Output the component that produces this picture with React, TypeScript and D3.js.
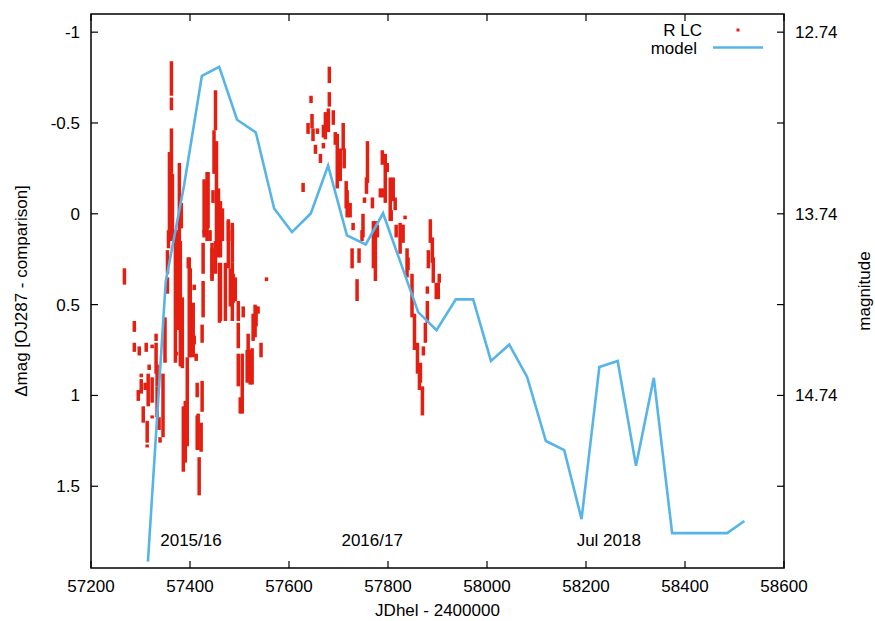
import React from 'react';
import * as d3 from 'd3';

// model light curve (JD - 2400000, delta mag)
const modelJd = [
  57315, 57351, 57388, 57424, 57459, 57495, 57533, 57570, 57606, 57644,
  57679, 57717, 57755, 57790, 57826, 57861, 57898, 57937, 57972, 58008,
  58045, 58081, 58119, 58156, 58191, 58227, 58264, 58301, 58337, 58374,
  58412, 58448, 58485, 58520,
];
const modelMag = [
  1.915, 0.372, -0.156, -0.76, -0.809, -0.518, -0.448, -0.029, 0.101, -0.002,
  -0.265, 0.119, 0.169, -0.003, 0.273, 0.541, 0.641, 0.471, 0.471, 0.81,
  0.72, 0.898, 1.251, 1.301, 1.681, 0.843, 0.81, 1.387, 0.903, 1.758,
  1.758, 1.758, 1.758, 1.691,
];

// R light curve, nightly runs: [jd, brightest, faintest]
const season1: [number, number, number][] = [
  [57267, 0.30, 0.39], [57287, 0.59, 0.65], [57287, 0.71, 0.76], [57297, 0.73, 0.78],
  [57311, 0.71, 0.76], [57323, 0.72, 0.74], [57331, 0.66, 0.70], [57331, 0.71, 0.88],
  [57317, 0.83, 0.86], [57301, 0.88, 0.90], [57301, 0.91, 0.99], [57295, 0.97, 1.03],
  [57309, 0.93, 0.97], [57315, 0.88, 1.06], [57323, 0.90, 1.04], [57305, 1.06, 1.15],
  [57313, 1.14, 1.26], [57313, 1.27, 1.28], [57323, 1.11, 1.12], [57333, 0.83, 0.95],
  [57333, 0.95, 1.12], [57337, 1.12, 1.19], [57339, 1.23, 1.26], [57345, 0.88, 1.23],
  [57349, 0.57, 0.82], [57354, 0.35, 0.44], [57354, 0.20, 0.33], [57356, 0.09, 0.19],
  [57370, 0.09, 0.82], [57376, 0.09, 0.64], [57384, 0.46, 0.85], [57372, 0.76, 0.78],
  [57386, 1.06, 1.42], [57390, 1.03, 1.37], [57394, 0.79, 1.08], [57398, 0.24, 0.79],
  [57404, 0.49, 0.68], [57408, 0.39, 0.42], [57408, 0.67, 0.72], [57412, 0.77, 0.81],
  [57414, 0.93, 1.01], [57414, 1.11, 1.30], [57418, 1.34, 1.55], [57422, 1.15, 1.31],
  [57424, 0.61, 0.71], [57424, 0.92, 1.09], [57426, 0.16, 0.33], [57426, 0.37, 0.57],
  [57428, 0.09, 0.13], [57440, 0.09, 0.15], [57444, 0.19, 0.36], [57457, 0.09, 0.24],
  [57459, 0.27, 0.60], [57471, 0.27, 0.59], [57485, 0.09, 0.27], [57485, 0.27, 0.59],
  [57491, 0.35, 0.48], [57497, 0.60, 0.74], [57497, 0.77, 0.95], [57501, 1.01, 1.10],
  [57507, 0.51, 0.57], [57515, 0.75, 0.93], [57521, 0.75, 0.94], [57527, 0.55, 0.70],
  [57533, 0.51, 0.62], [57537, 0.51, 0.55], [57543, 0.71, 0.79], [57554, 0.35, 0.37],
  [57505, 0.77, 1.10], [57517, 0.66, 0.90], [57525, 0.74, 0.94], [57531, 0.50, 0.68],
  [57394, 1.06, 1.28], [57416, 1.10, 1.30], [57400, 0.30, 0.79], [57406, 0.49, 0.79],
  [57396, 0.24, 0.30], [57362, -0.84, -0.65], [57362, -0.64, -0.57], [57362, -0.47, -0.22],
  [57358, -0.34, 0.15], [57364, -0.22, 0.15], [57378, -0.28, 0.15], [57382, -0.06, 0.08],
  [57380, 0.15, 0.84], [57451, -0.68, -0.46], [57448, -0.46, -0.22], [57453, -0.40, 0.15],
  [57451, 0.15, 0.33], [57434, -0.23, 0.15], [57436, -0.23, 0.08], [57428, -0.19, 0.11],
  [57457, -0.14, 0.15], [57465, -0.03, 0.15], [57477, 0.04, 0.15], [57485, 0.05, 0.15],
  [57446, -0.13, -0.06], [57461, -0.07, 0.24], [57477, 0.03, 0.30], [57461, 0.27, 0.59],
  [57481, 0.30, 0.51], [57487, 0.33, 0.49], [57444, 0.16, 0.37], [57497, 0.48, 0.59],
];
const season2: [number, number, number][] = [
  [57681, -0.81, -0.72], [57681, -0.67, -0.59], [57644, -0.65, -0.61], [57646, -0.55, -0.47],
  [57638, -0.50, -0.44], [57648, -0.47, -0.40], [57657, -0.47, -0.44], [57653, -0.38, -0.33],
  [57663, -0.33, -0.28], [57669, -0.49, -0.42], [57673, -0.56, -0.41], [57679, -0.58, -0.45],
  [57669, -0.39, -0.36], [57689, -0.57, -0.49], [57693, -0.45, -0.38], [57697, -0.44, -0.14],
  [57703, -0.36, -0.18], [57709, -0.50, -0.35], [57711, -0.36, -0.25], [57715, -0.18, -0.03],
  [57717, -0.13, 0.02], [57723, -0.06, 0.02], [57727, 0.19, 0.30], [57729, 0.05, 0.09],
  [57737, 0.36, 0.48], [57741, 0.19, 0.27], [57628, -0.17, -0.12], [57758, -0.40, -0.17],
  [57756, -0.20, -0.11], [57752, -0.09, -0.06], [57749, 0.00, 0.13], [57747, 0.09, 0.15],
  [57768, -0.09, -0.03], [57770, 0.04, 0.30], [57774, 0.04, 0.20], [57774, 0.20, 0.37],
  [57778, 0.06, 0.13], [57788, -0.35, -0.27], [57794, -0.33, -0.06], [57790, -0.14, -0.09],
  [57784, -0.14, -0.09], [57798, -0.28, -0.23], [57804, -0.20, 0.04], [57810, -0.20, -0.07],
  [57814, -0.09, -0.02], [57806, -0.02, 0.04], [57834, 0.01, 0.03], [57816, 0.06, 0.13],
  [57824, 0.05, 0.22], [57830, 0.06, 0.16], [57838, 0.19, 0.35], [57840, 0.24, 0.31],
  [57848, 0.33, 0.57], [57853, 0.55, 0.75], [57859, 0.71, 0.88], [57865, 0.82, 0.93],
  [57869, 0.95, 1.11], [57863, 0.86, 0.97], [57871, 0.73, 0.78], [57875, 0.60, 0.71],
  [57879, 0.48, 0.60], [57879, 0.40, 0.44], [57885, 0.03, 0.16], [57889, 0.13, 0.27],
  [57881, 0.20, 0.30], [57891, 0.24, 0.38], [57897, 0.38, 0.47], [57903, 0.33, 0.38],
  [57901, 0.38, 0.47],
];

const xTicks = [57200, 57400, 57600, 57800, 58000, 58200, 58400, 58600];
const yTicks = [-1, -0.5, 0, 0.5, 1, 1.5];
const y2Labels = [12.74, 13.74, 14.74];
const seasonLabels: [number, string][] = [
  [57402, '2015/16'],
  [57768, '2016/17'],
  [58246, 'Jul 2018'],
];

const W = 875;
const H = 621;
const margin = { top: 14, right: 91, bottom: 53, left: 91 };
const font = '"Liberation Sans", Arial, sans-serif';
const red = '#e41e10';
const blue = '#56b4e9';

export default function App() {
  const x = d3.scaleLinear().domain([57200, 58600]).range([margin.left, W - margin.right]);
  const y = d3.scaleLinear().domain([-1.1, 1.95]).range([margin.top, H - margin.bottom]);
  const offset = 13.74; // magnitude = delta + comparison

  const line = d3.line<number>()
    .x((_, i) => x(modelJd[i]))
    .y((d) => y(d));

  const runs = [...season1, ...season2];
  const left = margin.left;
  const right = W - margin.right;
  const top = margin.top;
  const bottom = H - margin.bottom;
  const tick = 7;

  return (
    <svg width={W} height={H} style={{ position: 'absolute', left: 0, top: 0, background: '#fff' }}
      fontFamily={font} fontSize={17}>
      {runs.map((r, i) => {
        const y0 = y(r[1]);
        const h = Math.max(3, y(r[2]) - y0);
        return <rect key={i} x={x(r[0]) - 1.5} y={y0} width={3.5} height={h} fill={red} />;
      })}
      <path d={line(modelMag) || ''} fill="none" stroke={blue} strokeWidth={2.6} strokeLinejoin="miter" />

      {/* ticks */}
      {xTicks.map((t) => (
        <g key={t}>
          <line x1={x(t)} x2={x(t)} y1={bottom} y2={bottom - tick} stroke="#000" strokeWidth={1.2} />
          <line x1={x(t)} x2={x(t)} y1={top} y2={top + tick} stroke="#000" strokeWidth={1.2} />
          <text x={x(t)} y={592} textAnchor="middle">{t}</text>
        </g>
      ))}
      {yTicks.map((t) => (
        <g key={t}>
          <line x1={left} x2={left + tick} y1={y(t)} y2={y(t)} stroke="#000" strokeWidth={1.2} />
          <line x1={right} x2={right - tick} y1={y(t)} y2={y(t)} stroke="#000" strokeWidth={1.2} />
          <text x={80} y={y(t)} dy="0.35em" textAnchor="end">{t}</text>
        </g>
      ))}
      {y2Labels.map((t) => (
        <text key={t} x={795} y={y(t - offset)} dy="0.35em" textAnchor="start">{t.toFixed(2)}</text>
      ))}
      <rect x={left} y={top} width={right - left} height={bottom - top} fill="none" stroke="#000" strokeWidth={1.5} />

      {seasonLabels.map(([jd, s]) => (
        <text key={s} x={x(jd)} y={y(1.828)} textAnchor="middle">{s}</text>
      ))}

      <text x={(left + right) / 2} y={616} textAnchor="middle">JDhel - 2400000</text>
      <text transform={`translate(27,${(top + bottom) / 2}) rotate(-90)`} textAnchor="middle">
        Δmag [OJ287 - comparison]
      </text>
      <text transform={`translate(870,${(top + bottom) / 2}) rotate(-90)`} textAnchor="middle">
        magnitude
      </text>

      {/* legend */}
      <text x={702} y={36} textAnchor="end">R LC</text>
      <rect x={736.5} y={28.5} width={3} height={3} fill={red} />
      <text x={697} y={54} textAnchor="end">model</text>
      <line x1={713} x2={763} y1={47.5} y2={47.5} stroke={blue} strokeWidth={2.6} />
    </svg>
  );
}
